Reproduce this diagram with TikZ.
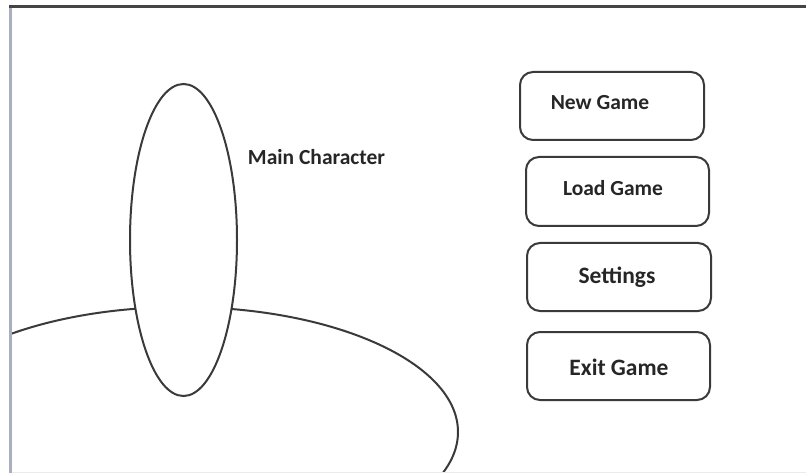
\documentclass[tikz,border=0pt]{standalone}
\usepackage{fontspec}
\setmainfont{Carlito}
\definecolor{linec}{HTML}{3A3A3A}
\definecolor{txtc}{HTML}{262626}
\definecolor{leftc}{HTML}{A9AFBE}
\definecolor{topc}{HTML}{454545}
\begin{document}
\begin{tikzpicture}[x=1pt,y=-1pt,
  btn/.style={draw=linec, line width=2pt, rounded corners=13pt, fill=white, inner sep=0pt},
  lbl/.style={text=txtc, font=\bfseries\fontsize{21.5}{24}\selectfont, inner sep=0pt},
  lblbig/.style={text=txtc, font=\bfseries\fontsize{23.5}{26}\selectfont, inner sep=0pt}]
\useasboundingbox (0,0) rectangle (806,473);
\fill[white] (0,0) rectangle (806,473);
% ground
\begin{scope}
  \clip (11,8) rectangle (806,471);
  \draw[linec, line width=2pt] (182,432) ellipse [x radius=276, y radius=125];
\end{scope}
% character
\draw[linec, line width=2pt, fill=white] (183.5,240) ellipse [x radius=53.5, y radius=156];
\node[lbl] (mc) at (316.5,157) {Main Character};
% frame
\draw[leftc, line width=3pt] (10.5,5) -- (10.5,473);
\draw[black!8, line width=1pt] (12,472) -- (806,472);
\draw[topc, line width=3.5pt] (9,6.3) -- (806,6.3);
% buttons
\node[btn, minimum width=184pt, minimum height=68pt] (bnew) at (612,106) {};
\node[lbl] (tnew) at (600,103) {New Game};
\node[btn, minimum width=183pt, minimum height=69pt] (bload) at (617.5,191.5) {};
\node[lbl] (tload) at (613,188) {Load Game};
\node[btn, minimum width=184pt, minimum height=68pt] (bset) at (619,277) {};
\node[lblbig] (tset) at (617,277) {Settings};
\node[btn, minimum width=183pt, minimum height=68pt] (bexit) at (618.5,366) {};
\node[lblbig] (texit) at (619,367) {Exit Game};
\end{tikzpicture}
\end{document}
